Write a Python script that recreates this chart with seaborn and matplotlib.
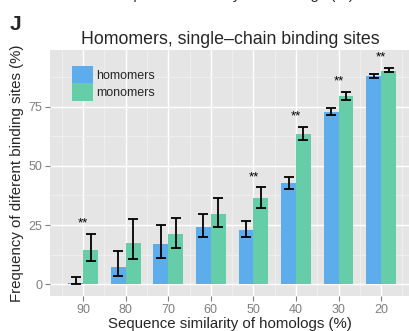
import matplotlib
matplotlib.use("Agg")
import matplotlib.pyplot as plt
import seaborn as sns
import pandas as pd
import numpy as np
from matplotlib.ticker import MultipleLocator

categories = ["90", "80", "70", "60", "50", "40", "30", "20"]
homomers = [0.7, 7.3, 17.0, 24.3, 23.0, 42.8, 72.9, 87.8]
homo_lo = [0.0, 3.5, 11.0, 20.0, 20.0, 40.2, 71.6, 87.2]
homo_hi = [3.0, 14.0, 25.0, 29.5, 26.5, 45.2, 74.4, 89.0]
monomers = [14.4, 17.4, 21.2, 29.7, 36.5, 63.5, 79.7, 90.3]
mono_lo = [10.0, 10.5, 15.5, 24.0, 32.0, 61.0, 78.0, 89.5]
mono_hi = [21.0, 27.5, 28.0, 36.5, 41.0, 66.5, 81.2, 91.4]
stars = ["**", "", "", "", "**", "**", "**", "**"]
star_y = [25.5, 0, 0, 0, 45.0, 71.0, 85.6, 96.0]
groups = ["homomers", "monomers"]
colors = ["#5DADEC", "#66CDA9"]

df = pd.DataFrame({
    "sim": categories * 2,
    "val": homomers + monomers,
    "group": [groups[0]] * len(categories) + [groups[1]] * len(categories),
})

sns.set_theme(style="darkgrid")
plt.rcParams["font.family"] = ["Liberation Sans", "DejaVu Sans"]

fig = plt.figure(figsize=(4.10, 3.31), dpi=100)
ax = fig.add_axes([50 / 410, 35 / 331, 360 / 410, 246 / 331])
ax.set_facecolor("#E5E5E5")

sns.barplot(data=df, x="sim", y="val", hue="group", order=categories,
            hue_order=groups, palette=colors, saturation=1, width=0.7,
            errorbar=None, ax=ax, linewidth=0, zorder=2)

bar_conts = list(ax.containers)
los = [homo_lo, mono_lo]
his = [homo_hi, mono_hi]
vals = [homomers, monomers]
for ci, cont in enumerate(bar_conts):
    xs = [p.get_x() + p.get_width() / 2 for p in cont.patches]
    v = np.array(vals[ci])
    lo = np.array(los[ci])
    hi = np.array(his[ci])
    ax.errorbar(xs, v, yerr=[v - lo, hi - v], fmt="none", ecolor="black",
                elinewidth=1.3, capsize=3.6, capthick=1.3, zorder=3)

for i, (s, yv) in enumerate(zip(stars, star_y)):
    if s:
        ax.text(i, yv, s, ha="center", va="center", fontsize=9.5, color="black")

ax.set_xlim(-0.78, 7.68)
ax.set_ylim(-5, 99)
ax.yaxis.set_major_locator(MultipleLocator(25))
ax.set_yticks([12.5, 37.5, 62.5, 87.5], minor=True)
ax.set_xticks(np.arange(-0.5, 8, 1), minor=True)
ax.grid(which="major", color="white", linewidth=1.0)
ax.grid(which="minor", color="#F2F2F2", linewidth=0.5)
ax.set_axisbelow(True)
for sp in ax.spines.values():
    sp.set_visible(False)

ax.tick_params(axis="both", which="major", labelsize=9, labelcolor="#7F7F7F",
               color="#7F7F7F", length=3.5, width=0.8, pad=2, bottom=True, left=True)
ax.tick_params(which="minor", length=0)

ax.set_xlabel("Sequence similarity of homologs (%)", fontsize=10.8, labelpad=1)
ax.set_ylabel("Frequency of diferent binding sites (%)", fontsize=10.8, labelpad=3)
ax.set_title("Homomers, single\u2013chain binding sites", fontsize=12.8, pad=4)

leg = ax.legend(title=None, loc="upper left", bbox_to_anchor=(0.06, 0.935),
                frameon=False, fontsize=9, handlelength=1.75, handleheight=1.75,
                labelspacing=0.0, handletextpad=0.2, borderpad=0, borderaxespad=0)

fig.text(10 / 410, 1 - 24 / 331, "J", fontsize=15, fontweight="bold", va="center", ha="left")
fig.text(232 / 410, 1 + 0.5 / 331, "Sequence similarity of homologs (%)", fontsize=10.8,
         ha="center", va="baseline")

fig.savefig("out.png", dpi=100)
